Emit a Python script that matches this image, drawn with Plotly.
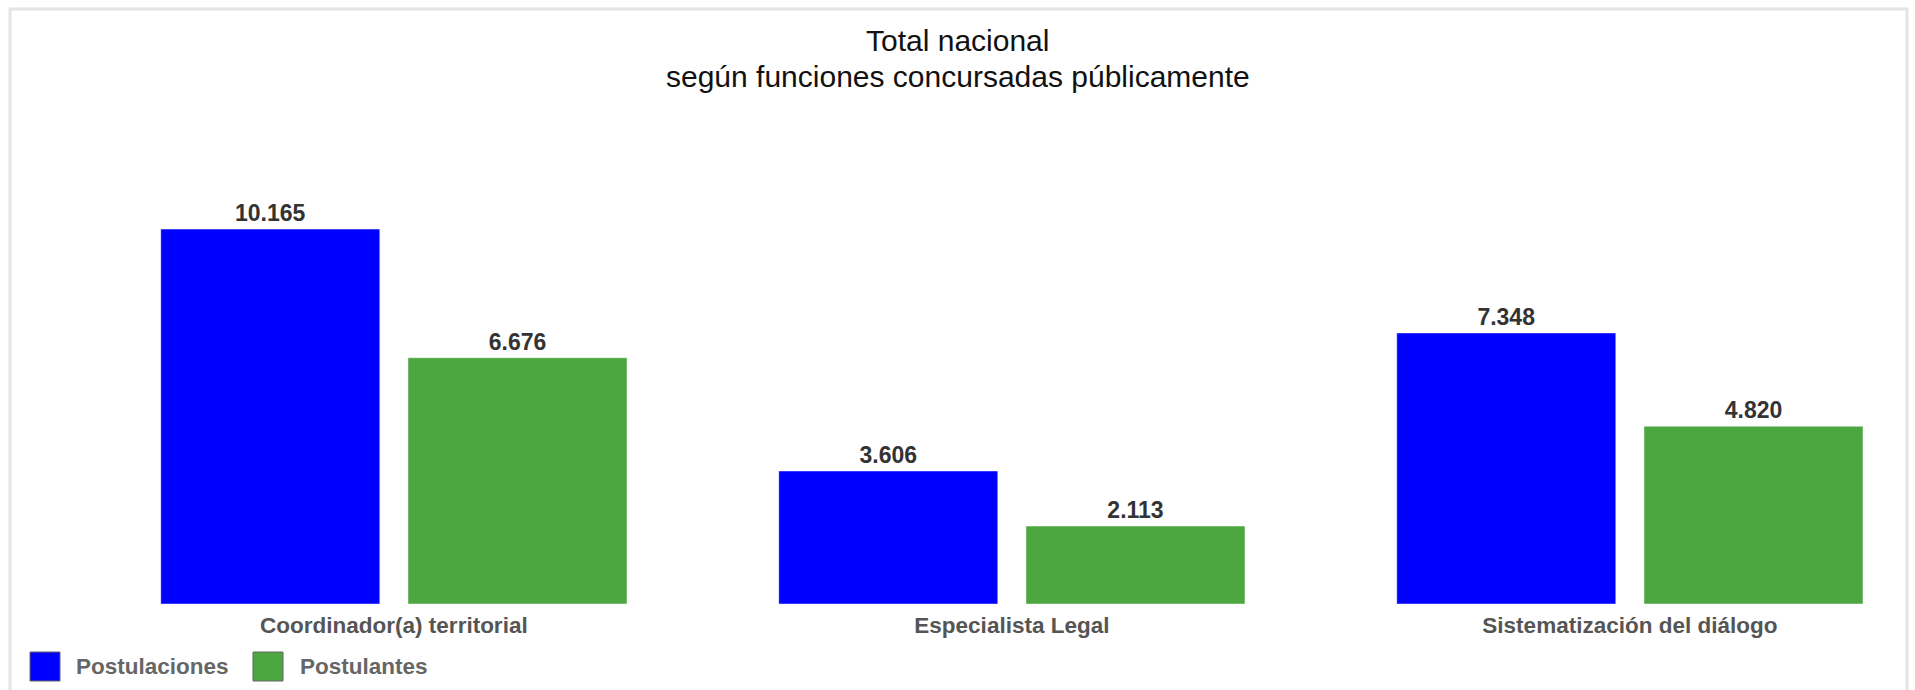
import plotly.graph_objects as go

categorias = ["Coordinador(a) territorial", "Especialista Legal", "Sistematización del diálogo"]
postulaciones = [10165, 3606, 7348]
postulantes = [6676, 2113, 4820]
series = ["Postulaciones", "Postulantes"]
titulo = ["Total nacional", "según funciones concursadas públicamente"]

W, H = 1915, 690
ML, MR, MT, MB = 20, 20, 130, 86
FONT = "Liberation Sans, Arial, sans-serif"
COLORS = {"Postulaciones": "#0000ff", "Postulantes": "#4ca741"}


def px_x(x):
    # pixel -> paper x
    return (x - ML) / (W - ML - MR)


def px_y(y):
    # pixel -> paper y
    return (H - MB - y) / (H - MT - MB)


fig = go.Figure()
for name, values in zip(series, [postulaciones, postulantes]):
    fig.add_trace(
        go.Bar(
            x=categorias,
            y=values,
            name=name,
            marker={"color": COLORS[name], "line": {"width": 1, "color": "rgba(255,255,255,0.45)"}},
            texttemplate="%{y:,}",
            textposition="outside",
            textfont={"family": FONT, "size": 23, "color": "#333333", "weight": "bold"},
            cliponaxis=False,
            showlegend=False,
        )
    )

shapes = [
    # marco del gráfico
    dict(type="rect", xref="paper", yref="paper",
         x0=px_x(10), x1=px_x(1907), y0=px_y(700), y1=px_y(9),
         line={"color": "#e4e4e4", "width": 3}, fillcolor="rgba(0,0,0,0)", layer="below"),
]
annotations = []
# título en dos líneas
for line, cy in zip(titulo, [40, 76]):
    annotations.append(dict(xref="paper", yref="paper", x=px_x(957.5), y=px_y(cy),
                            xanchor="center", yanchor="middle", showarrow=False, text=line,
                            font={"family": FONT, "size": 30, "color": "#111111"}))
# leyenda manual (cuadros grandes)
for name, sq_left, txt_left in [("Postulaciones", 30, 74), ("Postulantes", 253, 298)]:
    shapes.append(dict(type="rect", xref="paper", yref="paper",
                       x0=px_x(sq_left), x1=px_x(sq_left + 30), y0=px_y(681), y1=px_y(652),
                       fillcolor=COLORS[name], line={"color": "#666666", "width": 1}))
    annotations.append(dict(xref="paper", yref="paper", x=px_x(txt_left), y=px_y(666.5),
                            xanchor="left", yanchor="middle", showarrow=False, text=name,
                            font={"family": FONT, "size": 22.5, "color": "#666666", "weight": "bold"}))

fig.update_layout(
    width=W,
    height=H,
    margin={"l": ML, "r": MR, "t": MT, "b": MB},
    separators=",.",
    barmode="group",
    bargap=0.2,
    bargroupgap=0.114,
    plot_bgcolor="white",
    paper_bgcolor="white",
    xaxis={
        "range": [-0.605, 2.429],
        "showgrid": False,
        "showline": False,
        "zeroline": False,
        "ticks": "",
        "ticklabelstandoff": 5,
        "tickfont": {"family": FONT, "size": 22.5, "color": "#555555", "weight": "bold"},
    },
    yaxis={"range": [0, 12851], "visible": False},
    shapes=shapes,
    annotations=annotations,
    showlegend=False,
)

fig.write_html("out.html", config={"displayModeBar": False},
               post_script="document.body.style.margin='0';")
